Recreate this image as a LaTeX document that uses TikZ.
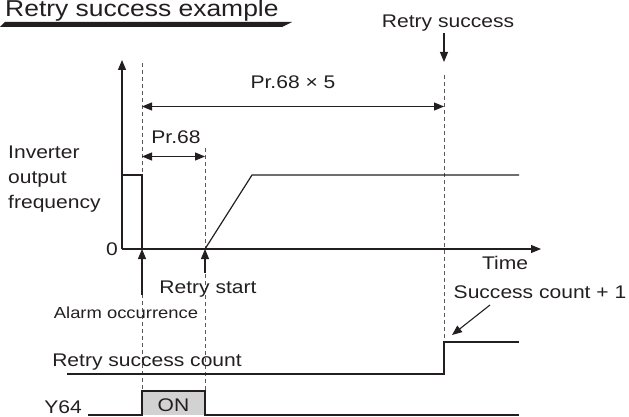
\documentclass[tikz,border=0pt]{standalone}
\usepackage{fontspec}
\setmainfont{Liberation Sans}[FakeStretch=1.15]
\usetikzlibrary{arrows.meta}
\definecolor{ink}{HTML}{231F20}
\definecolor{onfill}{HTML}{D2D2D2}
\begin{document}
\begin{tikzpicture}[x=1pt,y=-1pt,
  wave/.style={line width=1.2pt, draw=ink},
  guide/.style={dash pattern=on 4pt off 3pt, line width=0.9pt, draw=ink!75},
  tipped/.style={line width=1.1pt, draw=ink, -{Triangle[length=10pt,width=8pt]}},
  both/.style={line width=1.1pt, draw=ink, {Triangle[length=10pt,width=8pt]}-{Triangle[length=10pt,width=8pt]}},
  lbl/.style={font=\fontsize{18.3}{22}\selectfont, text=ink, inner sep=0pt},
  small/.style={font=\fontsize{16}{19}\selectfont, text=ink, inner sep=0pt}]
\useasboundingbox (0,0) rectangle (629,417);
% title
\node[font=\fontsize{23}{27}\selectfont, text=ink, inner sep=0pt, anchor=base west] (title) at (5,17) {Retry success example};
\fill[ink] (0,27) -- (5,22) -- (292,22) -- (282,27) -- cycle;
% key coordinates
\coordinate (origin) at (122,249);
\coordinate (ytop) at (122,60);
\coordinate (xend) at (541,249);
\coordinate (alarm) at (142,249);
\coordinate (rstart) at (205,249);
% dashed guides
\draw[guide] (142,63) -- (142,391);
\draw[guide] (205,148) -- (205,391);
\draw[guide] (444,75) -- (444,342);
% axes
\draw[tipped] (origin) -- (ytop);
\draw[tipped] (origin) -- (xend);
% frequency waveform
\draw[wave] (122,175) -- (142,175) -- (alarm);
\draw[wave] (rstart) -- (252,175) -- (519,175);
% dimension arrows
\coordinate (p5a) at (142,106.5);
\coordinate (p5b) at (444,106.5);
\draw[both] (p5a) -- (p5b);
\node[lbl, anchor=base] (p5) at (293,89) {Pr.68 \texttimes\ 5};
\coordinate (p1a) at (142,156.5);
\coordinate (p1b) at (205,156.5);
\draw[both] (p1a) -- (p1b);
\node[lbl, anchor=base] (p1) at (176,144) {Pr.68};
% retry success label
\node[lbl, anchor=base] (rs) at (448,28) {Retry success};
\coordinate (rstip) at (444,62);
\draw[tipped] (444,33) -- (rstip);
% axis labels
\node[lbl, anchor=base west] (ylab) at (8,158) {Inverter};
\node[lbl, anchor=base west] (ylab2) at (8,183) {output};
\node[lbl, anchor=base west] (ylab3) at (8,208) {frequency};
\node[lbl, anchor=base east] (zero) at (118,255) {0};
\node[lbl, anchor=base] (time) at (505,269) {Time};
% event arrows
\coordinate (alarmlow) at (142,295);
\coordinate (rstartlow) at (205,273);
\draw[tipped] (alarmlow) -- (alarm);
\draw[tipped] (rstartlow) -- (rstart);
\node[lbl, anchor=base] (rsl) at (208,293) {Retry start};
\node[small, anchor=base] (al) at (126,318) {Alarm occurrence};
% success count
\node[lbl, anchor=base] (sc) at (540,298) {Success count + 1};
\coordinate (scfrom) at (490,305);
\coordinate (scto) at (452,335);
\draw[tipped] (scfrom) -- (scto);
\node[lbl, anchor=base] (rsc) at (147,366) {Retry success count};
\draw[wave] (67,374) -- (444,374) -- (444,342) -- (519,342);
% Y64
\node[lbl, anchor=base] (y64) at (63,413) {Y64};
\fill[onfill] (142,391) rectangle (205,415);
\draw[wave] (88,415) -- (142,415) -- (142,391) -- (205,391) -- (205,415) -- (519,415);
\node[lbl, anchor=base] (on) at (173.5,411) {ON};
\end{tikzpicture}
\end{document}
